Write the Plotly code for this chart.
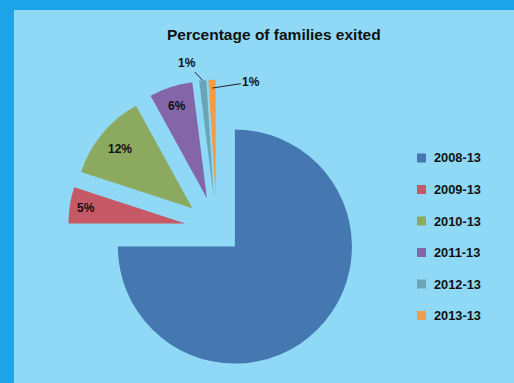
import math
import plotly.graph_objects as go

categories = ["2008-13", "2009-13", "2010-13", "2011-13", "2012-13", "2013-13"]
percent_values = [75, 5, 12, 6, 1, 1]
slice_colors = ["#4577B0", "#C55A66", "#8BAA5F", "#8466A8", "#6AA5B5", "#F29D45"]
pulls = [0.22, 0.27, 0.27, 0.27, 0.27, 0.27]

W, H = 514, 383
OUTER = "#1CA3E8"
INNER = "#8FD9F7"
FONT = "Liberation Sans, Arial, sans-serif"
TXT = "#111111"

# pie box geometry in pixels (margins are zero, so paper == pixels)
cx, cy, box = 216.7, 228.4, 297.2
r = box / 2 / (1 + max(pulls))

fig = go.Figure()
fig.add_trace(go.Pie(
    labels=categories,
    values=percent_values,
    sort=False,
    direction="clockwise",
    rotation=0,
    pull=pulls,
    marker=dict(colors=slice_colors, line=dict(width=0)),
    textinfo="none",
    showlegend=False,
    hoverinfo="label+percent",
    domain=dict(x=[(cx - box / 2) / W, (cx + box / 2) / W],
                y=[(H - (cy + box / 2)) / H, (H - (cy - box / 2)) / H]),
))


def px(x, y):
    return x / W, (H - y) / H


shapes = [dict(type="rect", xref="paper", yref="paper",
               x0=14 / W, x1=1, y0=0, y1=(H - 10) / H,
               fillcolor=INNER, line=dict(width=0), layer="below")]
tx, ty = px(273.5, 34)
annotations = [dict(text="<b>Percentage of families exited</b>", xref="paper", yref="paper",
                    x=tx, y=ty, showarrow=False,
                    font=dict(family=FONT, size=15.5, color=TXT),
                    xanchor="center", yanchor="middle")]

# slice labels (placed along each slice's bisector)
label_radius = [None, 0.86, 0.80, 0.83, 1.0, 0.93]   # fraction of radius, from slice apex
label_offset = [None, None, None, None, (-16, -17), (39, -6)]  # leader-line offsets (px)
total = sum(percent_values)
cum = 0.0
for i, v in enumerate(percent_values):
    a0 = cum / total * 360
    cum += v
    a1 = cum / total * 360
    mid = math.radians((a0 + a1) / 2)
    dx, dy = math.sin(mid), -math.cos(mid)
    if label_radius[i] is None:
        continue
    d = pulls[i] * r + label_radius[i] * r
    lx, ly = px(cx + d * dx, cy + d * dy)
    if label_offset[i] is None:
        annotations.append(dict(text="<b>%d%%</b>" % v, xref="paper", yref="paper",
                                x=lx, y=ly, showarrow=False,
                                xanchor="center", yanchor="middle",
                                font=dict(family=FONT, size=12, color=TXT)))
    else:
        ox, oy = label_offset[i]
        annotations.append(dict(text="<b>%d%%</b>" % v, xref="paper", yref="paper",
                                x=lx, y=ly, showarrow=True, arrowhead=0,
                                arrowwidth=1, arrowcolor="#222222",
                                ax=ox, ay=oy, standoff=0, startstandoff=0,
                                font=dict(family=FONT, size=12, color=TXT)))

# legend
leg_x, leg_y0, leg_dy = 417, 158, 31.5
for i, (cat, col) in enumerate(zip(categories, slice_colors)):
    yy = leg_y0 + i * leg_dy
    shapes.append(dict(type="rect", xref="paper", yref="paper",
                       x0=leg_x / W, x1=(leg_x + 9) / W,
                       y0=(H - yy - 4.5) / H, y1=(H - yy + 4.5) / H,
                       fillcolor=col, line=dict(width=0)))
    ax_, ay_ = px(leg_x + 14.5, yy)
    annotations.append(dict(text="<b>%s</b>" % cat, xref="paper", yref="paper",
                            x=ax_, y=ay_, showarrow=False,
                            xanchor="left", yanchor="middle",
                            font=dict(family=FONT, size=12.8, color=TXT)))

fig.update_layout(
    width=W, height=H,
    margin=dict(l=0, r=0, t=0, b=0, pad=0, autoexpand=False),
    paper_bgcolor=OUTER,
    plot_bgcolor=INNER,
    shapes=shapes,
    annotations=annotations,
)
fig.write_html("out.html")
